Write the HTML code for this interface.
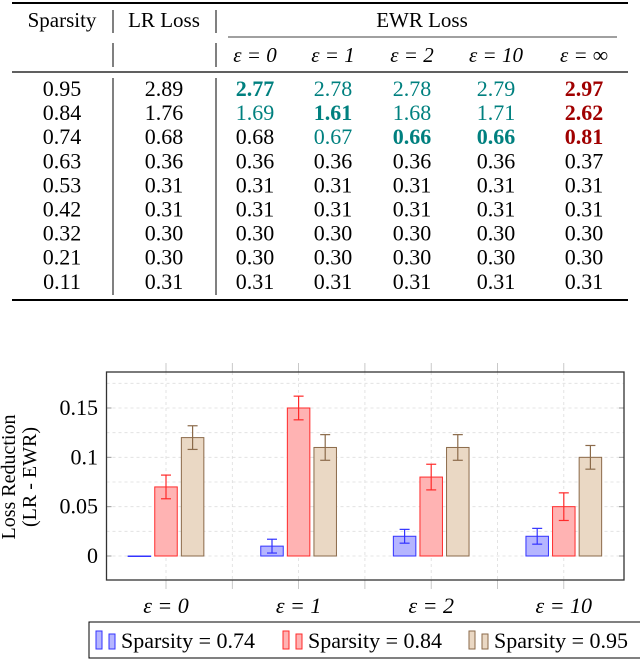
<!DOCTYPE html>
<html><head><meta charset="utf-8"><style>
body{margin:0;background:#fff;width:640px;height:659px;overflow:hidden;font-family:"Liberation Serif",serif;}
svg{position:absolute;left:0;top:0}
</style></head><body>
<svg width="640" height="659" font-family="Liberation Serif, serif">
<g id="table"></g>
<g id="chart"></g>
</svg>
<script>
const NS="http://www.w3.org/2000/svg";
function mk(p,t,a,txt){const e=document.createElementNS(NS,t);for(const k in a)e.setAttribute(k,a[k]);if(txt!==undefined)e.textContent=txt;p.appendChild(e);return e;}
// ---------- table ----------
const T=document.getElementById('table');
const colX=[62,164,255,333,412,496,584];
mk(T,'line',{x1:12,x2:628,y1:3,y2:3,stroke:'#000','stroke-width':2});
mk(T,'line',{x1:12,x2:628,y1:72,y2:72,stroke:'#000','stroke-width':1.3});
mk(T,'line',{x1:12,x2:628,y1:300,y2:300,stroke:'#000','stroke-width':2});
mk(T,'line',{x1:228,x2:617,y1:37,y2:37,stroke:'#000','stroke-width':0.8});
[[113,10,33],[113,43,67],[113,78,295],[216,10,33],[216,43,67],[216,78,295]].forEach(v=>mk(T,'line',{x1:v[0],x2:v[0],y1:v[1],y2:v[2],stroke:'#000','stroke-width':1}));
let h=mk(T,'text',{x:62,y:27,'font-size':21,'text-anchor':'middle'},'Sparsity');
h=mk(T,'text',{x:164,y:27,'font-size':21,'text-anchor':'middle'},'LR Loss');
h=mk(T,'text',{x:422,y:27,'font-size':21,'text-anchor':'middle'},'EWR Loss');
['ε = 0','ε = 1','ε = 2','ε = 10','ε = ∞'].forEach((s,i)=>{const e=mk(T,'text',{x:colX[i+2],y:62,'font-size':21,'text-anchor':'middle','font-style':'italic'},s);});
const rows=[
['0.95','2.89','2.77','2.78','2.78','2.79','2.97'],
['0.84','1.76','1.69','1.61','1.68','1.71','2.62'],
['0.74','0.68','0.68','0.67','0.66','0.66','0.81'],
['0.63','0.36','0.36','0.36','0.36','0.36','0.37'],
['0.53','0.31','0.31','0.31','0.31','0.31','0.31'],
['0.42','0.31','0.31','0.31','0.31','0.31','0.31'],
['0.32','0.30','0.30','0.30','0.30','0.30','0.30'],
['0.21','0.30','0.30','0.30','0.30','0.30','0.30'],
['0.11','0.31','0.31','0.31','0.31','0.31','0.31']];
const teal='#00807f',red='#a00000';
const style={'0,2':[teal,1],'0,3':[teal,0],'0,4':[teal,0],'0,5':[teal,0],'0,6':[red,1],
'1,2':[teal,0],'1,3':[teal,1],'1,4':[teal,0],'1,5':[teal,0],'1,6':[red,1],
'2,3':[teal,0],'2,4':[teal,1],'2,5':[teal,1],'2,6':[red,1]};
rows.forEach((r,i)=>r.forEach((v,j)=>{const s=style[i+','+j];const e=mk(T,'text',{x:colX[j],y:96+i*24.1,'font-size':22,'text-anchor':'middle',fill:s?s[0]:'#000','font-weight':s&&s[1]?'bold':'normal'},v);

}));
// ---------- chart ----------
const C=document.getElementById('chart');
const groups=['ε = 0','ε = 1','ε = 2','ε = 10'];
const s074=[0,0.01,0.02,0.02], e074=[0,0.007,0.007,0.008];
const s084=[0.07,0.15,0.08,0.05], e084=[0.012,0.012,0.013,0.014];
const s095=[0.12,0.11,0.11,0.10], e095=[0.012,0.013,0.013,0.012];
const yTicks=[0,0.05,0.1,0.15], yTickLabels=['0','0.05','0.1','0.15'];
const X0=106.5,X1=624,Y0=372,Y1=580;
const y=v=>556-v*986.7;
const gx=i=>166+i*132.6;
// grid
for(let v=-0.025;v<=0.19;v+=0.025){if(y(v)>Y0+1&&y(v)<Y1-1)mk(C,'line',{x1:X0,x2:X1,y1:y(v),y2:y(v),stroke:'#ddd','stroke-dasharray':'3,3','stroke-width':0.8});}
for(let i=-0.5;i<4;i+=0.5){const x=gx(i);if(x>X0&&x<X1){mk(C,'line',{x1:x,x2:x,y1:Y0,y2:Y1,stroke:'#ddd','stroke-dasharray':'3,3','stroke-width':0.8});mk(C,'line',{x1:x,x2:x,y1:Y0-9,y2:Y0,stroke:'#bbb','stroke-width':0.8});mk(C,'line',{x1:x,x2:x,y1:Y1,y2:Y1+9,stroke:'#bbb','stroke-width':0.8});}}
yTicks.forEach((v,i)=>{mk(C,'line',{x1:X0,x2:X0+5,y1:y(v),y2:y(v),stroke:'#999'});mk(C,'line',{x1:X1-5,x2:X1,y1:y(v),y2:y(v),stroke:'#999'});
const t=mk(C,'text',{x:98,y:y(v)+7,'font-size':22,'text-anchor':'end'},yTickLabels[i]);

});
const series=[[s074,e074,'#3333ff','rgba(120,120,255,0.55)',-26.6],[s084,e084,'#ff2a2a','#ffb3b3',0],[s095,e095,'#8b6a4a','#ead8c4',26.6]];
series.forEach(([vals,errs,st,fi,off],si)=>vals.forEach((v,i)=>{const cx=gx(i)+off,w=22.5;
const b=mk(C,'rect',{x:cx-w/2,y:Math.min(y(v),y(0)),width:w,height:Math.max(Math.abs(y(v)-y(0)),0.5),fill:fi,stroke:st,'stroke-width':1});


if(errs[i]>0){const a=y(v+errs[i]),c=y(v-errs[i]);mk(C,'line',{x1:cx,x2:cx,y1:a,y2:c,stroke:st,'stroke-width':1.2});mk(C,'line',{x1:cx-5,x2:cx+5,y1:a,y2:a,stroke:st,'stroke-width':1.2});mk(C,'line',{x1:cx-5,x2:cx+5,y1:c,y2:c,stroke:st,'stroke-width':1.2});}}));
const fr=mk(C,'rect',{x:X0,y:Y0,width:X1-X0,height:Y1-Y0,fill:'none',stroke:'#333','stroke-width':1.3});

groups.forEach((g,i)=>{const t=mk(C,'text',{x:gx(i),y:613,'font-size':22,'text-anchor':'middle','font-style':'italic'},g);

});
const yl=mk(C,'text',{transform:'translate(15,477) rotate(-90)','font-size':20,'text-anchor':'middle'},'Loss Reduction');
const yl2=mk(C,'text',{transform:'translate(36,477) rotate(-90)','font-size':20,'text-anchor':'middle'},'(LR - EWR)');
// legend
const L=mk(C,'g',{});
mk(L,'rect',{x:89,y:622,width:552,height:36,fill:'#fff',stroke:'#000','stroke-width':1});
const labs=['Sparsity = 0.74','Sparsity = 0.84','Sparsity = 0.95'];const lx=[96,283,469];
labs.forEach((s,i)=>{const [,, st,fi]=series[i];const g=mk(L,'g',{});
mk(g,'rect',{x:lx[i],y:631,width:6,height:18,fill:fi,stroke:st});mk(g,'rect',{x:lx[i]+13,y:634,width:6,height:15,fill:fi,stroke:st});
mk(g,'text',{x:lx[i]+25,y:648,'font-size':22},s);});
</script>
</body></html>
